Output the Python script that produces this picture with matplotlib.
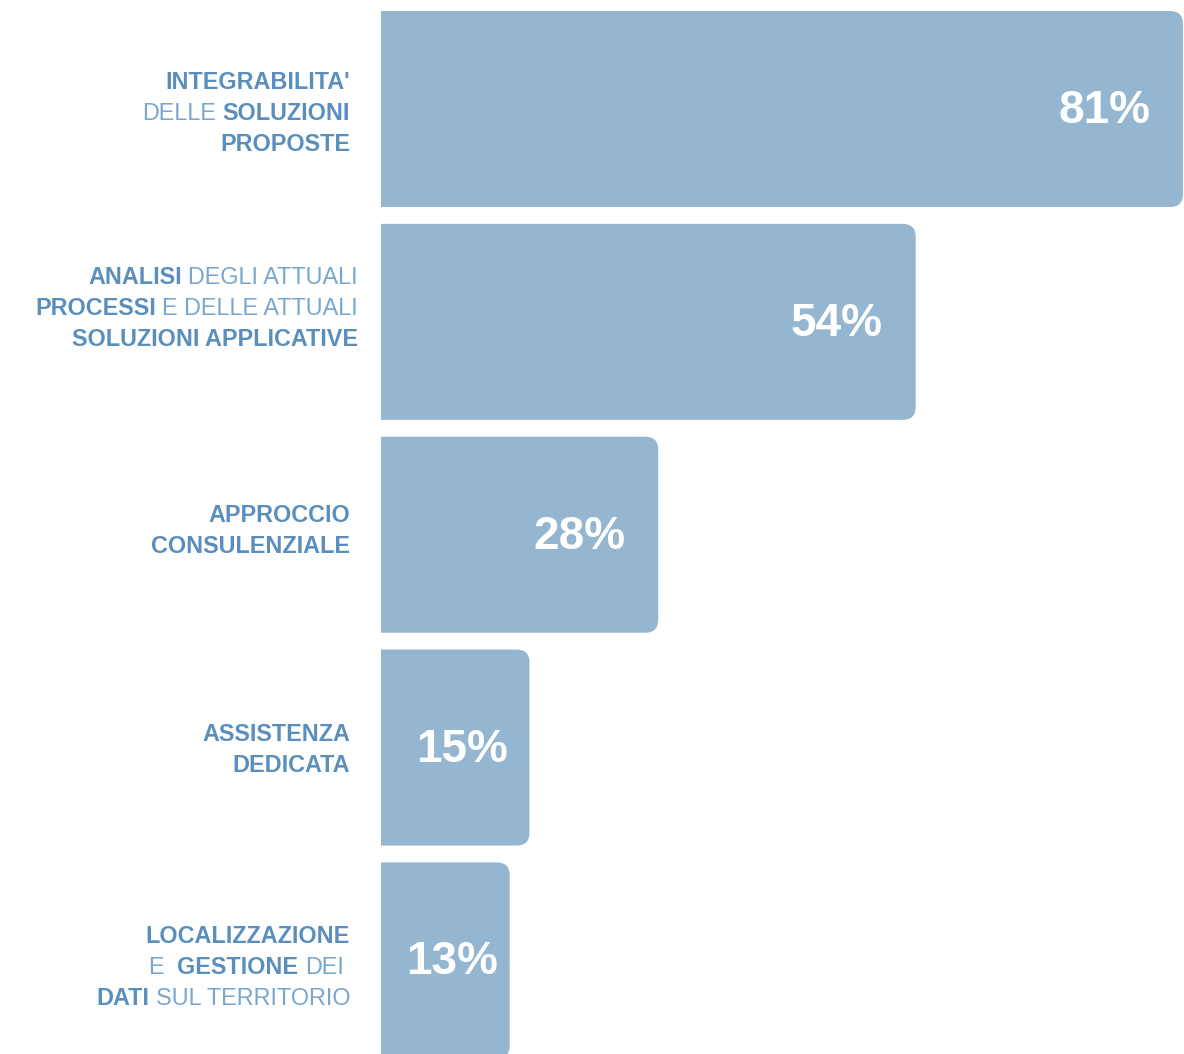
import matplotlib
matplotlib.use("Agg")
import matplotlib.pyplot as plt
from matplotlib.patches import FancyBboxPatch
from matplotlib.transforms import blended_transform_factory, offset_copy

# ---- data ----
values = [81, 54, 28, 15, 13]
value_labels = ["81%", "54%", "28%", "15%", "13%"]
# each category: list of lines, each line a list of (text, bold) segments
cat_line1 = [
    [("INTEGRABILITA'", True)],
    [("DELLE", False), ("SOLUZIONI", True)],
    [("PROPOSTE", True)],
]
cat_line2 = [
    [("ANALISI", True), ("DEGLI ATTUALI", False)],
    [("PROCESSI", True), ("E DELLE ATTUALI", False)],
    [("SOLUZIONI APPLICATIVE", True)],
]
cat_line3 = [
    [("APPROCCIO", True)],
    [("CONSULENZIALE", True)],
]
cat_line4 = [
    [("ASSISTENZA", True)],
    [("DEDICATA", True)],
]
cat_line5 = [
    [("LOCALIZZAZIONE", True)],
    [("E ", False), ("GESTIONE", True), ("DEI", False), ("", False)],
    [("DATI", True), ("SUL TERRITORIO", False)],
]
categories = [cat_line1, cat_line2, cat_line3, cat_line4, cat_line5]

# ---- style / layout ----
W, H, DPI = 1184, 1054, 100
BAR = "#94b6d0"
BOLD_C = "#5a8fbd"
NORM_C = "#78a6cf"
FONT = "Liberation Sans"
label_dx_px = [0, 8, 0, 0, 0]        # small horizontal nudges of the label blocks
label_dy_px = [4, -13, -4, 2, 7]     # small vertical nudges of the label blocks

fig = plt.figure(figsize=(W / DPI, H / DPI), dpi=DPI, facecolor="white")
ax_left = 381 / W
ax = fig.add_axes([ax_left, 0, 1 - ax_left, 1])
ax.set_facecolor("white")
for s in ax.spines.values():
    s.set_visible(False)
ax.set_xticks([])
ax.set_yticks([])

xmax = 81.1
ax.set_xlim(0, xmax)
row_px = 212.85
top_c = 109
ax.set_ylim((H - top_c) / row_px, -top_c / row_px)

px_per_x = (W - 381) / xmax
px_per_y = row_px
bar_h = 196 / row_px
radius_px = 13
rx = radius_px / px_per_x
aspect = (radius_px / px_per_y) / rx

ypos = list(range(len(values)))
for i, v in enumerate(values):
    p = FancyBboxPatch((-3, ypos[i] - bar_h / 2), v + 3, bar_h,
                       boxstyle=f"round,pad=0,rounding_size={rx}",
                       mutation_aspect=aspect, facecolor=BAR, edgecolor="none")
    ax.add_patch(p)
    w_px = v * px_per_x
    dy_pt = -2 * 72 / DPI
    if w_px > 200:
        ax.annotate(value_labels[i], (v, ypos[i]), xytext=(-33 * 72 / DPI, dy_pt),
                    textcoords="offset points", ha="right", va="center",
                    color="white", fontsize=33, fontweight="bold", family=FONT)
    else:
        ax.annotate(value_labels[i], (v / 2, ypos[i]), xytext=(7 * 72 / DPI, dy_pt),
                    textcoords="offset points", ha="center", va="center",
                    color="white", fontsize=33, fontweight="bold", family=FONT)

# ---- category labels with mixed weights ----
renderer = fig.canvas.get_renderer()
base = blended_transform_factory(fig.transFigure, ax.transData)
anchor_x = 350 / W
line_px = 31
fs = 16.8
space_px = 0.278 * fs * DPI / 72
for i, lines in enumerate(categories):
    n = len(lines)
    for j, segs in enumerate(lines):
        dy = (j - (n - 1) / 2) * line_px + label_dy_px[i]
        cursor = -label_dx_px[i]
        for text, bold in reversed(segs):
            tr = offset_copy(base, fig=fig, x=-cursor, y=-dy, units="dots")
            t = fig.text(anchor_x, ypos[i], text, transform=tr, ha="right",
                         va="center", fontsize=fs, family=FONT,
                         fontweight="bold" if bold else "normal",
                         color=BOLD_C if bold else NORM_C)
            w = t.get_window_extent(renderer).width if text else 0.0
            cursor += w + space_px

fig.savefig("out.png", dpi=DPI, facecolor="white")
